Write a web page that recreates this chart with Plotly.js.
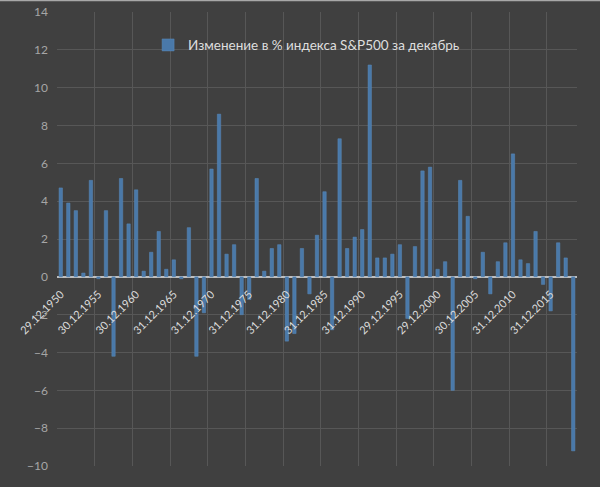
<!DOCTYPE html>
<html><head><meta charset="utf-8">
<script src="https://cdn.plot.ly/plotly-3.0.1.min.js"></script>
<style>html,body{margin:0;padding:0;background:#404040;}</style>
</head><body><div id="chart" style="width:600px;height:487px;"></div>
<script>
const seriesName = "Изменение в % индекса S&P500 за декабрь";
const years = [1950,1951,1952,1953,1954,1955,1956,1957,1958,1959,
  1960,1961,1962,1963,1964,1965,1966,1967,1968,1969,
  1970,1971,1972,1973,1974,1975,1976,1977,1978,1979,
  1980,1981,1982,1983,1984,1985,1986,1987,1988,1989,
  1990,1991,1992,1993,1994,1995,1996,1997,1998,1999,
  2000,2001,2002,2003,2004,2005,2006,2007,2008,2009,
  2010,2011,2012,2013,2014,2015,2016,2017,2018];
const changes = [4.7,3.9,3.5,0.2,5.1,-0.1,3.5,-4.2,5.2,2.8,
  4.6,0.3,1.3,2.4,0.4,0.9,-0.1,2.6,-4.2,-1.9,
  5.7,8.6,1.2,1.7,-2.0,-1.2,5.2,0.3,1.5,1.7,
  -3.4,-3.0,1.5,-0.9,2.2,4.5,-2.8,7.3,1.5,2.1,
  2.5,11.2,1.0,1.0,1.2,1.7,-2.2,1.6,5.6,5.8,
  0.4,0.8,-6.0,5.1,3.2,-0.1,1.3,-0.9,0.8,1.8,
  6.5,0.9,0.7,2.4,-0.4,-1.8,1.8,1.0,-9.2];
const tickYears = [1950,1955,1960,1965,1970,1975,1980,1985,1990,1995,2000,2005,2010,2015];
const tickLabels = ["29.12.1950","30.12.1955","30.12.1960","31.12.1965","31.12.1970","31.12.1975","31.12.1980",
  "31.12.1985","31.12.1990","29.12.1995","29.12.2000","30.12.2005","31.12.2010","31.12.2015"];
const yMin = -10, yMax = 14;

const trace = {
  type: 'bar', x: years, y: changes, name: seriesName,
  marker: {color: '#4a79a9', line: {color: '#5a8abb', width: 0.5}},
  showlegend: true, hoverinfo: 'x+y'
};
const layout = {
  width: 600, height: 487,
  paper_bgcolor: '#404040', plot_bgcolor: '#404040',
  margin: {l: 57, r: 23, t: 12, b: 21},
  bargap: 0.55,
  font: {family: 'Lato, "Open Sans", sans-serif', color: '#d9d9d9'},
  showlegend: true,
  legend: {x: 0.48, xanchor: 'center', y: 0.927, yanchor: 'middle', orientation: 'h',
    bgcolor: 'rgba(0,0,0,0)', font: {size: 13.5, color: '#dedede'}, itemwidth: 30},
  shapes: [{type: 'line', xref: 'paper', yref: 'paper', x0: -57/520, x1: 1 + 23/520,
    y0: 1 + 11.5/454, y1: 1 + 11.5/454, line: {color: '#a8a8a8', width: 1.5}}],
  xaxis: {
    type: 'linear', range: [years[0] - 0.5, years[years.length - 1] + 0.5],
    anchor: 'free', position: (0 - yMin) / (yMax - yMin),
    tickmode: 'array', tickvals: tickYears, ticktext: tickLabels, tickangle: -45,
    tickfont: {size: 11, color: '#dcdcdc'}, ticklabelstandoff: 8,
    showgrid: false, zeroline: false, showline: false, ticks: '',
    minor: {tickmode: 'array', tickvals: tickYears.map(v => v - 0.5), showgrid: true,
      gridcolor: '#575757', gridwidth: 1, ticks: ''}
  },
  yaxis: {
    range: [yMin, yMax], tickmode: 'linear', tick0: 0, dtick: 2,
    showgrid: true, gridcolor: '#575757', gridwidth: 1,
    zeroline: true, zerolinecolor: '#bfbfbf', zerolinewidth: 1.5,
    tickfont: {size: 12, color: '#a6a6a6'}, ticklabelstandoff: 8, showline: false
  }
};
Plotly.newPlot('chart', [trace], layout, {displayModeBar: false, staticPlot: true});
</script></body></html>
